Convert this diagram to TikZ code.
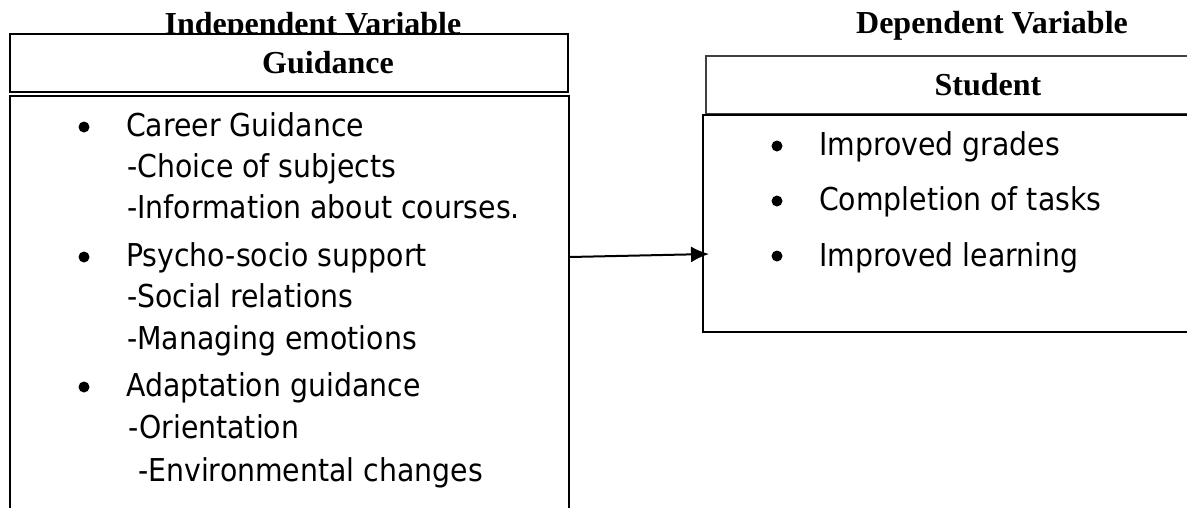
\documentclass[tikz,border=0pt]{standalone}
\usepackage{fontspec}
\setmainfont{Liberation Serif}
\newfontfamily\bodyfont[FakeStretch=0.9]{DejaVu Sans}
\usetikzlibrary{arrows.meta,calc}
\begin{document}
\begin{tikzpicture}[x=1pt,y=-1pt,
  box/.style={draw, fill=white, line width=1.8pt, rectangle, anchor=north west, inner sep=0pt},
  head/.style={font=\bfseries\fontsize{32}{36}\selectfont, inner sep=0pt, anchor=base},
  item/.style={font=\bodyfont\fontsize{31.5}{36}\selectfont, inner sep=0pt, anchor=base west},
  dot/.style={circle, fill, inner sep=0pt, minimum size=11pt},
  link/.style={line width=2pt, -{Latex[length=18pt,width=16pt]}}]
\useasboundingbox (0,0) rectangle (1187,507);
% titles above the boxes
\node[head] (iv) at (313,34) {Independent Variable};
\node[head] (dv) at (992,33) {Dependent Variable};
% left boxes
\node[box, minimum width=558, minimum height=58] (lh) at (9,33) {};
\node[box, minimum width=559, minimum height=440] (lb) at (9,95) {};
% right boxes
\node[box, draw=black!75, line width=1.5pt, minimum width=500, minimum height=58] (rh) at (705,55) {};
\node[box, minimum width=510, minimum height=217] (rb) at (702,114) {};
% box headings
\node[head] (gd) at (328,73) {Guidance};
\node[head] (st) at (988,95) {Student};
% left list
\node[dot] (b1) at (84,127) {};
\node[item] (t1) at (126,136) {Career Guidance};
\node[item] (t2) at (127,177) {-Choice of subjects};
\node[item] (t3) at (127,218) {-Information about courses.};
\node[dot] (b2) at (84,257) {};
\node[item] (t4) at (126,266) {Psycho-socio support};
\node[item] (t5) at (127,307) {-Social relations};
\node[item] (t6) at (127,349) {-Managing emotions};
\node[dot] (b3) at (84,387) {};
\node[item] (t7) at (126,396) {Adaptation guidance};
\node[item] (t8) at (128,438) {-Orientation};
\node[item] (t9) at (138,481) {-Environmental changes};
% right list
\node[dot] (r1) at (777,146) {};
\node[item] (s1) at (819,155) {Improved grades};
\node[dot] (r2) at (777,201) {};
\node[item] (s2) at (819,210) {Completion of tasks};
\node[dot] (r3) at (777,256) {};
\node[item] (s3) at (819,266) {Improved learning};
% connector
\coordinate (a0) at ($(lb.north east)+(0,162)$);
\coordinate (a1) at ($(rb.north west)+(7,140)$);
\draw[link] (a0) -- (a1);
\end{tikzpicture}
\end{document}
